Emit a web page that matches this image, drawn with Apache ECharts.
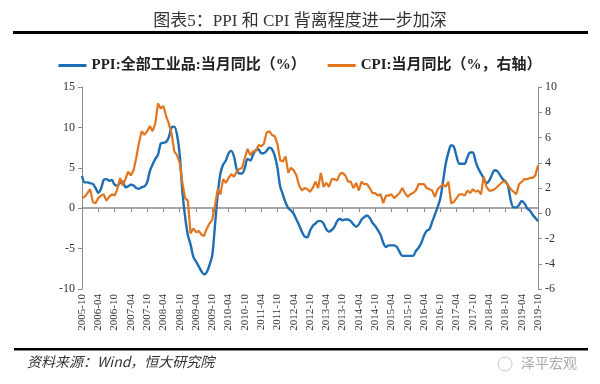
<!DOCTYPE html>
<html><head><meta charset="utf-8">
<script src="https://cdn.jsdelivr.net/npm/echarts@6/dist/echarts.min.js"></script>
<style>html,body{margin:0;padding:0;background:#fff}#c{width:600px;height:384px}</style>
</head><body><div id="c"></div>
<script>
// monthly categories 2005-10 .. 2019-10
var months = (function(){var a=[];for(var y=2005;y<=2019;y++){for(var m=1;m<=12;m++){if(y===2005&&m<10)continue;if(y===2019&&m>10)continue;a.push(y+'-'+(m<10?'0'+m:m));}}return a;})();

var ppi = [
 4.0,3.2,3.2,
 3.1,3.0,2.5,1.9,2.4,3.5,3.6,3.4,3.5,2.9,2.8,3.1,
 3.3,2.6,2.7,2.9,2.8,2.5,2.4,2.6,2.7,3.2,4.6,5.4,
 6.1,6.6,8.0,8.1,8.2,8.8,10.0,10.1,9.1,6.6,2.0,-1.1,
 -3.3,-4.5,-6.0,-6.6,-7.2,-7.8,-8.2,-7.9,-7.0,-5.8,-2.1,1.7,
 4.3,5.4,5.9,6.8,7.1,6.4,4.8,4.3,4.3,5.0,6.1,5.9,
 6.6,7.2,7.3,6.8,6.8,7.1,7.5,7.3,6.5,5.0,2.7,1.7,
 0.7,0.0,-0.3,-0.7,-1.4,-2.1,-2.9,-3.5,-3.6,-2.8,-2.2,-1.9,
 -1.6,-1.6,-1.9,-2.6,-2.9,-2.7,-2.3,-1.6,-1.3,-1.5,-1.4,-1.4,
 -1.6,-2.0,-2.3,-2.0,-1.4,-1.1,-0.9,-1.2,-1.8,-2.2,-2.7,-3.3,
 -4.3,-4.8,-4.6,-4.6,-4.6,-4.8,-5.4,-5.9,-5.9,-5.9,-5.9,-5.9,
 -5.3,-4.9,-4.3,-3.4,-2.8,-2.6,-1.7,-0.8,0.1,1.2,3.3,5.5,
 6.9,7.8,7.6,6.4,5.5,5.5,5.5,6.3,6.9,6.9,5.8,4.9,
 4.3,3.7,3.1,3.4,4.1,4.7,4.6,4.1,3.6,3.3,2.7,0.9,
 0.1,0.1,0.4,0.9,0.6,0.0,-0.3,-0.8,-1.2,-1.6
];
var cpi = [
 1.2,1.3,1.6,
 1.9,0.9,0.8,1.2,1.4,1.5,1.0,1.3,1.5,1.4,1.9,2.8,
 2.2,2.7,3.3,3.0,3.4,4.4,5.6,6.5,6.2,6.5,6.9,6.5,
 7.1,8.7,8.3,8.5,7.7,7.1,6.3,4.9,4.6,4.0,2.4,1.2,
 1.0,-1.6,-1.2,-1.5,-1.4,-1.7,-1.8,-1.2,-0.8,-0.5,0.6,1.9,
 1.5,2.7,2.4,2.8,3.1,2.9,3.3,3.5,3.6,4.4,5.1,4.6,
 4.9,4.9,5.4,5.3,5.5,6.4,6.5,6.2,6.1,5.5,4.2,4.1,
 4.5,3.2,3.6,3.4,3.0,2.2,1.8,2.0,1.9,1.7,2.0,2.5,
 2.0,3.2,2.1,2.4,2.1,2.7,2.7,2.6,3.1,3.2,3.0,2.5,
 2.5,2.0,2.4,1.8,2.5,2.3,2.3,2.0,1.6,1.6,1.4,1.5,
 0.8,1.4,1.4,1.5,1.2,1.4,1.6,2.0,1.6,1.3,1.5,1.6,
 1.8,2.3,2.3,2.3,2.0,1.9,1.8,1.3,1.9,2.1,2.3,2.1,
 2.5,0.8,0.9,1.2,1.5,1.5,1.4,1.8,1.6,1.9,1.7,1.8,
 1.5,2.9,2.1,1.8,1.8,1.9,2.1,2.3,2.5,2.5,2.2,1.9,
 1.7,1.5,2.3,2.5,2.7,2.7,2.8,2.8,3.0,3.8
];
var seriesNames = ['PPI:全部工业品:当月同比（%）','CPI:当月同比（%，右轴）'];
var leftTicks = {min:-10,max:15,interval:5};
var rightTicks = {min:-6,max:10,interval:2};

var serif = '"Liberation Serif","Noto Sans CJK SC",serif';
var chart = echarts.init(document.getElementById('c'), null, {renderer:'canvas'});
chart.setOption({
  animation:false,
  backgroundColor:'#fff',
  title:{text:'图表5：PPI 和 CPI 背离程度进一步加深',left:'center',top:8,
    textStyle:{fontFamily:serif,fontSize:17,fontWeight:'normal',color:'#333'}},
  legend:{top:53,left:'center',itemWidth:28,itemHeight:3,itemGap:22,icon:'rect',
    textStyle:{fontFamily:serif,fontSize:15,fontWeight:'bold',color:'#222'},
    data:seriesNames},
  grid:{left:82,right:62,top:87,bottom:95,containLabel:false},
  xAxis:[{
    type:'category',data:months,boundaryGap:false,position:'bottom',
    axisLine:{show:false,onZero:false},axisTick:{show:false},
    axisLabel:{interval:5,rotate:90,margin:5,fontFamily:serif,fontSize:11,color:'#333'}
  },{
    type:'category',data:months,boundaryGap:false,position:'bottom',
    axisLine:{show:true,onZero:true,onZeroAxisIndex:0,lineStyle:{color:'#8c8c8c',width:1.5}},
    axisTick:{show:true,interval:5,length:4,inside:false,lineStyle:{color:'#8c8c8c'}},
    axisLabel:{show:false}
  }],
  yAxis:[{
    type:'value',min:leftTicks.min,max:leftTicks.max,interval:leftTicks.interval,
    splitLine:{show:false},
    axisLine:{show:true,lineStyle:{color:'#8c8c8c'}},
    axisTick:{show:true,length:4,lineStyle:{color:'#8c8c8c'}},
    axisLabel:{fontFamily:serif,fontSize:12,color:'#333',margin:7}
  },{
    type:'value',min:rightTicks.min,max:rightTicks.max,interval:rightTicks.interval,
    splitLine:{show:false},
    axisLine:{show:true,lineStyle:{color:'#8c8c8c'}},
    axisTick:{show:true,length:4,lineStyle:{color:'#8c8c8c'}},
    axisLabel:{fontFamily:serif,fontSize:12,color:'#333',margin:7}
  }],
  series:[{
    name:seriesNames[0],type:'line',data:ppi,yAxisIndex:0,xAxisIndex:0,smooth:0.3,
    showSymbol:false,lineStyle:{width:2.4,color:'#1f6db2'},itemStyle:{color:'#1f6db2'}
  },{
    name:seriesNames[1],type:'line',data:cpi,yAxisIndex:1,xAxisIndex:0,
    showSymbol:false,lineStyle:{width:2.2,color:'#e2761f'},itemStyle:{color:'#e2761f'}
  }],
  graphic:[
    {type:'rect',shape:{x:13,y:31,width:575,height:3},style:{fill:'#000'}},
    {type:'rect',shape:{x:14,y:348,width:574,height:2.5},style:{fill:'#000'}},
    {type:'text',left:27,top:355,style:{text:'资料来源：Wind，恒大研究院',font:'italic 14px "Noto Sans CJK SC",serif',fill:'#333'}},
    {type:'circle',shape:{cx:505,cy:364,r:7},style:{fill:'none',stroke:'#c8c8c8',lineWidth:1}},
    {type:'text',left:521,top:356,style:{text:'泽平宏观',font:'14px "Noto Sans CJK SC",sans-serif',fill:'#aaa'}}
  ]
});
</script></body></html>
